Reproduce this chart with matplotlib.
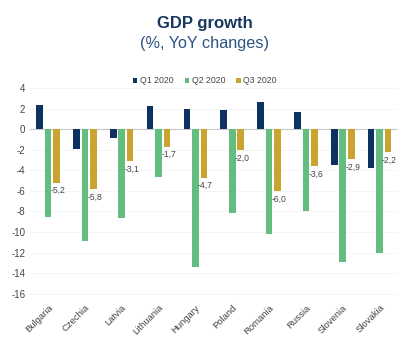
import numpy as np
import matplotlib
matplotlib.use('Agg')
import matplotlib.pyplot as plt

plt.rcParams['font.family'] = ['Liberation Sans', 'DejaVu Sans']

countries = ['Bulgaria', 'Czechia', 'Latvia', 'Lithuania', 'Hungary',
             'Poland', 'Romania', 'Russia', 'Slovenia', 'Slovakia']
q1_2020 = [2.4, -1.9, -0.9, 2.3, 2.0, 1.9, 2.6, 1.7, -3.5, -3.8]
q2_2020 = [-8.5, -10.9, -8.6, -4.6, -13.4, -8.1, -10.2, -8.0, -12.9, -12.0]
q3_2020 = [-5.2, -5.8, -3.1, -1.7, -4.7, -2.0, -6.0, -3.6, -2.9, -2.2]
series_names = ['Q1 2020', 'Q2 2020', 'Q3 2020']
yticks = [4, 2, 0, -2, -4, -6, -8, -10, -12, -14, -16]

c_q1 = '#0D3160'
c_q2 = '#62BD7F'
c_q3 = '#C9A431'
text_grey = '#444444'


def fmt(v):
    return '{:.1f}'.format(v).replace('.', ',')


def main():
    fig = plt.figure(figsize=(4, 3.48), dpi=100)
    ax = fig.add_axes([0.074, 0.141, 0.921, 0.606])

    x = np.arange(len(countries))
    w = 0.18
    off = 0.23
    ax.bar(x - off, q1_2020, w, color=c_q1, label=series_names[0], zorder=3)
    ax.bar(x, q2_2020, w, color=c_q2, label=series_names[1], zorder=3)
    ax.bar(x + off, q3_2020, w, color=c_q3, label=series_names[2], zorder=3)

    for xi, v in zip(x, q3_2020):
        ax.text(xi + off + 0.04, v - 0.35, fmt(v), ha='center', va='top',
                fontsize=6.2, color=text_grey, zorder=4)

    ax.axhline(0, color='#C8C8C8', linewidth=0.8, zorder=2)
    ax.set_xlim(-0.5, len(countries) - 0.5)
    ax.set_ylim(-16.5, 4)
    ax.set_yticks(yticks)
    ax.set_yticklabels([str(t) if t >= 0 else '-' + str(-t) for t in yticks],
                       fontsize=7, color=text_grey)
    ax.set_xticks(x)
    ax.set_xticklabels(countries, rotation=45, ha='right', rotation_mode='anchor',
                       fontsize=6.8, color=text_grey)
    ax.tick_params(length=0, pad=3)
    ax.grid(axis='y', color='#F4F4F4', linewidth=0.6, zorder=0)
    for s in ax.spines.values():
        s.set_visible(False)

    fig.text(0.512, 0.932, 'GDP growth', ha='center', va='center',
             fontsize=12, fontweight='bold', color='#17375E')
    fig.text(0.51, 0.874, '(%, YoY changes)', ha='center', va='center',
             fontsize=11.7, color='#2B5582')

    fig.legend(loc='center', bbox_to_anchor=(0.512, 0.768), ncol=3, frameon=False,
               fontsize=6.3, handlelength=0.5, handleheight=0.5, handletextpad=0.3,
               columnspacing=1.3, labelcolor=text_grey)

    fig.savefig('out.png', dpi=100, facecolor='white')


if __name__ == '__main__':
    main()
